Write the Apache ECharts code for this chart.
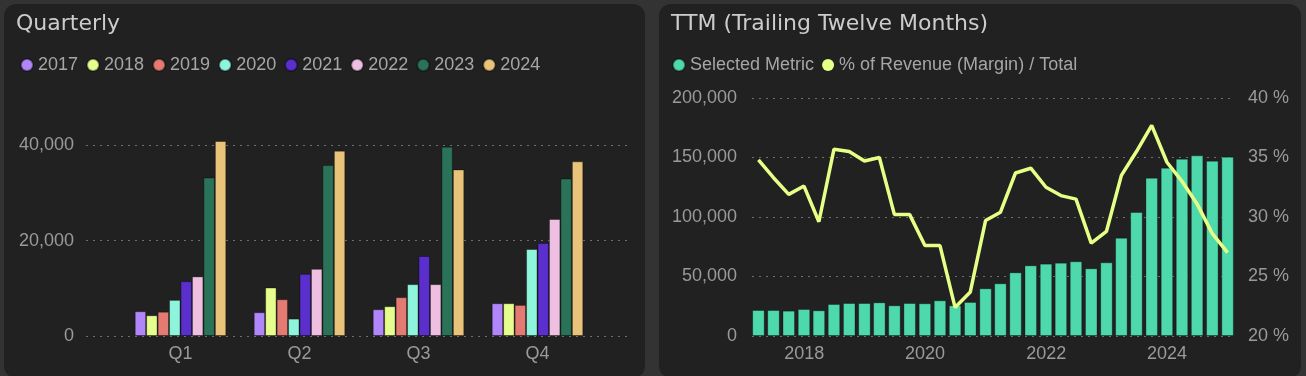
<!DOCTYPE html>
<html>
<head>
<meta charset="utf-8">
<script src="https://cdn.jsdelivr.net/npm/echarts@6/dist/echarts.min.js"></script>
<style>
  html, body { margin: 0; padding: 0; background: #333333; width: 1306px; height: 376px; overflow: hidden; }
  .panel { position: absolute; top: 4px; height: 374px; background: #212121; border-radius: 12px; overflow: hidden; }
  #quarterly { left: 4px; width: 641px; }
  #ttm { left: 659px; width: 642px; }
</style>
</head>
<body>
<div id="quarterly" class="panel"></div>
<div id="ttm" class="panel"></div>
<script>
// quarterly values by year (Q1..Q4)
const quarters = ['Q1', 'Q2', 'Q3', 'Q4']
const years = ['2017', '2018', '2019', '2020', '2021', '2022', '2023', '2024']
const y2017 = [5200, 4990, 5620, 6880]
const y2018 = [4350, 10170, 6250, 6880]
const y2019 = [5100, 7720, 8150, 6530]
const y2020 = [7580, 3650, 10880, 18250]
const y2021 = [11500, 13050, 16780, 19510]
const y2022 = [12500, 14100, 10880, 24560]
const y2023 = [33250, 35850, 39720, 33050]
const y2024 = [40900, 38880, 34940, 36630]
const yearColors = ['#b286fb', '#e5fe8e', '#e37b72', '#8ff4dc', '#5a2fcd', '#eebfe1', '#2b7358', '#eac37a']

// trailing twelve months
const ttmDates = [
  '2017-03-31', '2017-06-30', '2017-09-30', '2017-12-31',
  '2018-03-31', '2018-06-30', '2018-09-30', '2018-12-31',
  '2019-03-31', '2019-06-30', '2019-09-30', '2019-12-31',
  '2020-03-31', '2020-06-30', '2020-09-30', '2020-12-31',
  '2021-03-31', '2021-06-30', '2021-09-30', '2021-12-31',
  '2022-03-31', '2022-06-30', '2022-09-30', '2022-12-31',
  '2023-03-31', '2023-06-30', '2023-09-30', '2023-12-31',
  '2024-03-31', '2024-06-30', '2024-09-30', '2024-12-31'
]
const ttmMetric = [
  21850, 21850, 21300, 22700, 21600, 26900, 27700, 27700,
  28300, 25800, 27700, 27500, 30000, 25800, 28600, 40100,
  44300, 53500, 59400, 60800, 61600, 62800, 56900, 61900,
  82600, 104200, 133000, 141400, 149000, 151800, 147300, 150700
]
const ttmMargin = [
  34.8, 33.3, 31.9, 32.6, 29.6, 35.7, 35.5, 34.7,
  35.0, 30.2, 30.2, 27.6, 27.6, 22.4, 23.7, 29.7,
  30.4, 33.7, 34.1, 32.5, 31.8, 31.5, 27.8, 28.8,
  33.5, 35.5, 37.7, 34.6, 33.0, 31.1, 28.6, 27.0
]

const labelFont = { color: '#9a9a9a', fontSize: 18, fontFamily: 'Liberation Sans, Arial, sans-serif' }
const titleStyle = { color: '#cccccc', fontSize: 22, fontWeight: 'normal', fontFamily: 'DejaVu Sans, sans-serif' }
const legendText = { color: '#a6a6a6', fontSize: 18, fontFamily: 'Liberation Sans, Arial, sans-serif' }
const dotted = { color: '#6e6e6e', width: 1, type: [2, 5] }

function initQuarterly() {
  const chart = echarts.init(document.getElementById('quarterly'))
  const yearData = [y2017, y2018, y2019, y2020, y2021, y2022, y2023, y2024]
  const maxVal = Math.max(...yearData.flat())
  const series = years.map((y, i) => ({
    name: y,
    type: 'bar',
    xAxisIndex: 1,
    yAxisIndex: 1,
    data: yearData[i],
    barGap: 0,
    barCategoryGap: '23%',
    itemStyle: { color: yearColors[i], borderColor: 'rgba(0,0,0,0.35)', borderWidth: 1 }
  }))
  chart.setOption({
    title: { text: 'Quarterly', left: 7, top: 4, textStyle: titleStyle },
    legend: {
      data: years, icon: 'circle', left: 11, top: 47, itemWidth: 12, itemHeight: 14, itemGap: 8,
      textStyle: legendText
    },
    grid: [
      { left: 82, right: 15, top: 137, bottom: 42 },
      { left: 117, width: 476, top: 137, bottom: 42 }
    ],
    xAxis: [
      { type: 'value', gridIndex: 0, show: false },
      {
        type: 'category', gridIndex: 1, data: quarters,
        axisLine: { show: false }, axisTick: { show: false },
        axisLabel: Object.assign({ margin: 9 }, labelFont)
      }
    ],
    yAxis: [
      {
        type: 'value', gridIndex: 0, min: 0, max: maxVal, interval: 20000,
        axisLine: { show: false }, axisTick: { show: false },
        axisLabel: Object.assign({ margin: 12, showMaxLabel: false }, labelFont),
        splitLine: { lineStyle: dotted, showMaxLine: false }
      },
      { type: 'value', gridIndex: 1, min: 0, max: maxVal, show: false, splitLine: { show: false } }
    ],
    series: series
  })
}

function initTTM() {
  const chart = echarts.init(document.getElementById('ttm'))
  chart.setOption({
    title: { text: 'TTM (Trailing Twelve Months)', left: 7, top: 4, textStyle: titleStyle },
    legend: {
      data: ['Selected Metric', '% of Revenue (Margin) / Total'], icon: 'circle', left: 8, top: 47,
      itemWidth: 12, itemHeight: 14, itemGap: 8,
      textStyle: legendText
    },
    grid: { left: 93, right: 67, top: 94, bottom: 42 },
    xAxis: {
      type: 'time',
      axisLine: { show: false }, axisTick: { show: false },
      splitLine: { show: false },
      axisLabel: Object.assign({
        margin: 9,
        // every other year only
        formatter: function (value) {
          const yr = new Date(value).getFullYear()
          return yr % 2 === 0 ? String(yr) : ''
        }
      }, labelFont)
    },
    yAxis: [
      {
        type: 'value', min: 0, max: 200000, interval: 50000,
        axisLine: { show: false }, axisTick: { show: false },
        axisLabel: Object.assign({ margin: 15 }, labelFont),
        splitLine: { lineStyle: dotted }
      },
      {
        type: 'value', min: 20, max: 40, interval: 5,
        axisLine: { show: false }, axisTick: { show: false },
        axisLabel: Object.assign({ margin: 14, formatter: '{value} %' }, labelFont),
        splitLine: { lineStyle: dotted }
      }
    ],
    series: [
      {
        name: 'Selected Metric', type: 'bar', yAxisIndex: 0,
        data: ttmDates.map((d, i) => [d, ttmMetric[i]]),
        barCategoryGap: '16%',
        itemStyle: { color: '#4ed9ad', borderColor: 'rgba(0,0,0,0.3)', borderWidth: 1 }
      },
      {
        name: '% of Revenue (Margin) / Total', type: 'line', yAxisIndex: 1,
        data: ttmDates.map((d, i) => [d, ttmMargin[i]]),
        symbol: 'none',
        itemStyle: { color: '#e6ff86' },
        lineStyle: { color: '#e6ff86', width: 3.5 }
      }
    ]
  })
}

initQuarterly()
initTTM()
</script>
</body>
</html>
